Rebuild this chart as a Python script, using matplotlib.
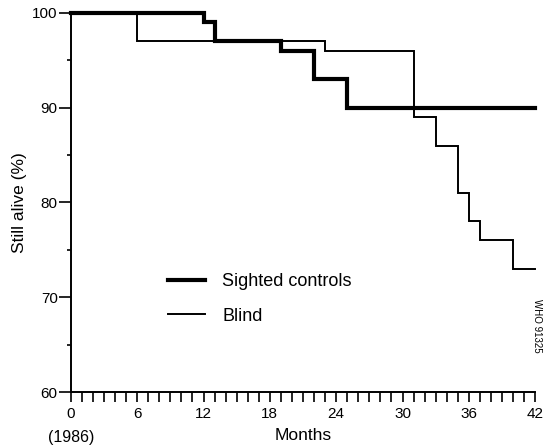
import matplotlib
matplotlib.use("Agg")
import matplotlib.pyplot as plt
from matplotlib.ticker import MultipleLocator

plt.rcParams['font.family'] = ['Liberation Sans', 'DejaVu Sans']

# Kaplan-Meier style step data (month where step starts, survival %)
sighted_months = [0, 12, 13, 19, 22, 25, 42]
sighted_alive = [100, 99, 97, 96, 93, 90, 90]
blind_months = [0, 6, 23, 31, 33, 35, 36, 37, 40, 42]
blind_alive = [100, 97, 96, 89, 86, 81, 78, 76, 73, 73]

x_ticks = [0, 6, 12, 18, 24, 30, 36, 42]
y_ticks = [60, 70, 80, 90, 100]

fig = plt.figure(figsize=(5.45, 4.46), dpi=100)
ax = fig.add_axes([0.130, 0.121, 0.852, 0.850])

ax.step(sighted_months, sighted_alive, where='post', color='black', lw=3.0,
        clip_on=False, solid_joinstyle='miter', label='Sighted controls')
ax.step(blind_months, blind_alive, where='post', color='black', lw=1.4,
        clip_on=False, solid_joinstyle='miter', label='Blind')

ax.set_xlim(0, 42)
ax.set_ylim(60, 100)
ax.set_xticks(x_ticks)
ax.set_yticks(y_ticks)
ax.xaxis.set_minor_locator(MultipleLocator(1))
ax.yaxis.set_minor_locator(MultipleLocator(5))
ax.tick_params(axis='x', which='both', direction='out', length=7.5, width=1.2,
               labelsize=11, pad=3)
ax.tick_params(axis='y', which='major', direction='out', length=8.5, width=1.2,
               labelsize=11, pad=1)
ax.tick_params(axis='y', which='minor', direction='out', length=3, width=1.2)

for s in ['top', 'right']:
    ax.spines[s].set_visible(False)
for s in ['left', 'bottom']:
    ax.spines[s].set_linewidth(1.4)

ax.set_ylabel('Still alive (%)', fontsize=12.5, labelpad=4)
ax.set_xlabel('Months', fontsize=12.5, labelpad=5)
fig.text(71 / 545, 1 - 442 / 446, '(1986)', ha='center', va='baseline', fontsize=11.5)

leg = ax.legend(loc='center left', bbox_to_anchor=(168 / 545, 1 - 299 / 446),
                bbox_transform=fig.transFigure, frameon=False, borderpad=0,
                borderaxespad=0, fontsize=13, handlelength=2.05,
                handletextpad=0.95, labelspacing=0.95)

fig.text(0.986, 0.27, 'WHO 91325', rotation=-90, ha='center', va='center', fontsize=7)

fig.savefig('out.png', dpi=100)
